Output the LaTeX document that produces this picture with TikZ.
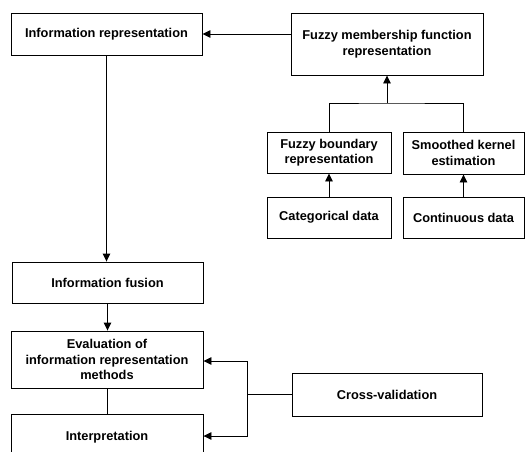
\documentclass[tikz,border=0pt]{standalone}
\usepackage{fontspec}
\setmainfont{Liberation Sans}
\usetikzlibrary{arrows.meta,calc}
\tikzset{
  box/.style={draw, line width=0.9pt, inner sep=0pt, align=center,
    font=\bfseries\fontsize{12.8}{15.5}\selectfont},
  conn/.style={line width=0.9pt},
  arr/.style={conn, -{Triangle[length=8pt,width=7.5pt]}},
}
\newcommand{\bx}[6]{\node[box, minimum width=#4pt, minimum height=#5pt] (#1) at (#2pt,-#3pt) {#6};}
\begin{document}
\begin{tikzpicture}
\useasboundingbox (0,0) rectangle (526pt,-451pt);
\bx{ir}{106.5}{34}{191}{42}{Information representation}
\bx{fm}{387}{44}{192}{62}{Fuzzy membership function\\representation}
\bx{fb}{329}{152.5}{124}{41}{Fuzzy boundary\\representation}
\bx{sk}{463.5}{153}{121}{42}{Smoothed kernel\\estimation}
\bx{cd}{329}{217.5}{124}{41}{Categorical data}
\bx{cn}{463.5}{217.5}{121}{41}{Continuous data}
\bx{fu}{107.5}{282.5}{191}{41}{Information fusion}
\bx{ev}{107}{359.5}{192}{57}{Evaluation of\\information representation\\methods}
\node[box, minimum width=192pt, minimum height=46pt, text depth=0pt] (in) at (107pt,-437pt) {\raisebox{3pt}{Interpretation}};
\bx{cv}{387}{394.5}{190}{43}{Cross-validation}

\coordinate (jn) at (387pt,-103pt);
\coordinate (fbk) at (247pt,-394.5pt);
\coordinate (ft) at (247pt,-361pt);
\coordinate (fbm) at (247pt,-436pt);

\draw[arr] (ir.east -| fm.west) -- (ir.east);
\draw[arr] (ir.south) -- (ir.south |- fu.north);
\draw[arr] (fu.south) -- (fu.south |- ev.north);
\draw[conn] (ev.south) -- (ev.south |- in.north);
\draw[conn] (fb.north) |- (jn) -| (sk.north);
\draw[arr] (jn) -- (fm.south);
\draw[arr] (cd.north) -- (fb.south);
\draw[arr] (cn.north) -- (sk.south);
\draw[conn] (cv.west) -- (fbk);
\draw[arr] (fbk) -- (ft) -- (ft -| ev.east);
\draw[arr] (fbk) -- (fbm) -- (fbm -| in.east);
\end{tikzpicture}
\end{document}
